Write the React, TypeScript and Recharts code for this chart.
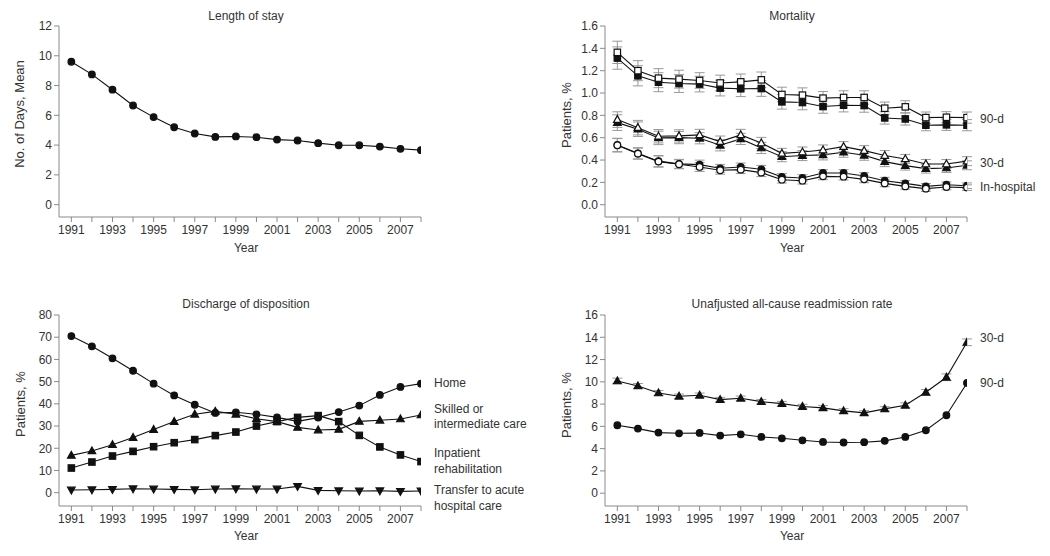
import React from 'react';
import { LineChart, Line, XAxis, YAxis, ErrorBar } from 'recharts';

const years = [1991, 1992, 1993, 1994, 1995, 1996, 1997, 1998, 1999, 2000, 2001, 2002, 2003, 2004, 2005, 2006, 2007, 2008];

// Length of stay
const losMean = [9.6, 8.75, 7.72, 6.66, 5.88, 5.2, 4.78, 4.55, 4.58, 4.53, 4.37, 4.31, 4.13, 3.99, 3.99, 3.9, 3.75, 3.66];

// Mortality
const mort90Open = [1.364, 1.2, 1.133, 1.124, 1.112, 1.09, 1.1, 1.118, 0.987, 0.981, 0.954, 0.96, 0.96, 0.864, 0.876, 0.78, 0.783, 0.78];
const mort90Filled = [1.313, 1.154, 1.097, 1.085, 1.08, 1.044, 1.038, 1.04, 0.921, 0.915, 0.879, 0.891, 0.888, 0.777, 0.768, 0.712, 0.715, 0.712];
const mort30Open = [0.762, 0.69, 0.613, 0.616, 0.625, 0.565, 0.625, 0.553, 0.46, 0.472, 0.49, 0.52, 0.484, 0.44, 0.41, 0.365, 0.365, 0.39];
const mort30Filled = [0.735, 0.676, 0.598, 0.601, 0.595, 0.532, 0.589, 0.508, 0.43, 0.44, 0.446, 0.47, 0.443, 0.386, 0.35, 0.323, 0.329, 0.353];
const mortHospFilled = [0.535, 0.46, 0.39, 0.366, 0.359, 0.326, 0.338, 0.317, 0.248, 0.239, 0.284, 0.284, 0.257, 0.215, 0.191, 0.164, 0.179, 0.17];
const mortHospOpen = [0.532, 0.457, 0.386, 0.362, 0.338, 0.308, 0.314, 0.287, 0.224, 0.215, 0.254, 0.251, 0.227, 0.191, 0.164, 0.144, 0.158, 0.153];
const mort90Err = [0.1, 0.09, 0.085, 0.08, 0.07, 0.07, 0.07, 0.07, 0.065, 0.065, 0.06, 0.06, 0.06, 0.055, 0.055, 0.05, 0.05, 0.05];
const mort30Err = [0.07, 0.065, 0.06, 0.055, 0.05, 0.05, 0.05, 0.05, 0.045, 0.045, 0.045, 0.045, 0.045, 0.045, 0.04, 0.04, 0.04, 0.04];
const mortHospErr = [0.06, 0.05, 0.05, 0.04, 0.04, 0.035, 0.035, 0.035, 0.03, 0.03, 0.03, 0.03, 0.03, 0.03, 0.025, 0.025, 0.025, 0.025];

// Discharge disposition
const dispHome = [70.5, 65.9, 60.5, 54.9, 49.1, 43.8, 39.6, 35.9, 36.2, 35.3, 33.9, 32.1, 33.8, 36.3, 39.2, 44.0, 47.6, 49.1];
const dispSkilled = [16.8, 18.8, 21.6, 24.8, 28.4, 32.0, 35.3, 36.6, 35.3, 33.3, 32.0, 29.4, 28.2, 28.5, 32.1, 32.6, 33.2, 35.0];
const dispRehab = [11.1, 13.8, 16.5, 18.6, 20.7, 22.5, 23.9, 25.7, 27.3, 30.0, 32.0, 33.9, 34.7, 32.0, 25.8, 20.6, 17.0, 14.0];
const dispTransfer = [1.2, 1.35, 1.5, 1.8, 1.65, 1.5, 1.35, 1.65, 1.8, 1.65, 1.65, 2.85, 1.05, 0.9, 0.75, 0.9, 0.6, 0.75];

// Readmission
const readm30 = [10.08, 9.63, 9.0, 8.7, 8.79, 8.4, 8.52, 8.22, 8.04, 7.78, 7.66, 7.39, 7.21, 7.57, 7.89, 9.06, 10.41, 13.55];
const readm90 = [6.1, 5.8, 5.44, 5.38, 5.41, 5.17, 5.29, 5.05, 4.93, 4.75, 4.6, 4.55, 4.58, 4.7, 5.05, 5.65, 7.0, 9.9];
const readm30Err = [0.25, 0.22, 0.22, 0.2, 0.2, 0.2, 0.2, 0.2, 0.2, 0.2, 0.2, 0.2, 0.2, 0.2, 0.22, 0.25, 0.3, 0.3];

const losTicks = [0, 2, 4, 6, 8, 10, 12];
const mortTicks = [0, 0.2, 0.4, 0.6, 0.8, 1.0, 1.2, 1.4, 1.6];
const dispTicks = [0, 10, 20, 30, 40, 50, 60, 70, 80];
const readmTicks = [0, 2, 4, 6, 8, 10, 12, 14, 16];

const losData = years.map((y, i) => ({ year: y, los: losMean[i] }));
const mortData = years.map((y, i) => ({
  year: y,
  m90o: mort90Open[i], m90f: mort90Filled[i],
  m30o: mort30Open[i], m30f: mort30Filled[i],
  mho: mortHospOpen[i], mhf: mortHospFilled[i],
  e90: mort90Err[i], e30: mort30Err[i], eh: mortHospErr[i],
}));
const dispData = years.map((y, i) => ({
  year: y, home: dispHome[i], skilled: dispSkilled[i], rehab: dispRehab[i], transfer: dispTransfer[i],
}));
const readmData = years.map((y, i) => ({ year: y, r30: readm30[i], r90: readm90[i], e30: readm30Err[i] }));

const FONT = '"Liberation Sans", Arial, Helvetica, sans-serif';
const TEXT = '#333';
const AXIS = '#8a8a8a';

type Shape = 'circle' | 'square' | 'up' | 'down';
const makeDot = (shape: Shape, filled: boolean) => (p: any) => {
  const { cx, cy, index } = p;
  const fill = filled ? '#111' : '#fff';
  const common = { fill, stroke: '#111', strokeWidth: 1.2 };
  if (cx == null || cy == null) return <g key={index} />;
  if (shape === 'circle') return <circle key={index} cx={cx} cy={cy} r={3.3} {...common} />;
  if (shape === 'square') return <rect key={index} x={cx - 3.2} y={cy - 3.2} width={6.4} height={6.4} {...common} />;
  if (shape === 'up')
    return <polygon key={index} points={`${cx},${cy - 4} ${cx - 3.8},${cy + 2.8} ${cx + 3.8},${cy + 2.8}`} {...common} />;
  return <polygon key={index} points={`${cx},${cy + 4} ${cx - 3.8},${cy - 2.8} ${cx + 3.8},${cy - 2.8}`} {...common} />;
};

const xAxisProps = {
  dataKey: 'year',
  type: 'number' as const,
  domain: [1990.4, 2008],
  ticks: years,
  interval: 0 as const,
  allowDataOverflow: true,
  tickFormatter: (v: number) => (v % 2 === 1 ? String(v) : ''),
  tick: { fill: TEXT, fontSize: 12, fontFamily: FONT },
  stroke: AXIS,
  tickSize: 5,
  tickMargin: 3,
  height: 30,
};

const yAxisCommon = {
  stroke: AXIS,
  tickSize: 5,
  tickMargin: 2,
  interval: 0 as const,
  allowDataOverflow: true,
  tick: { fill: TEXT, fontSize: 12, fontFamily: FONT },
};

const lineProps = {
  type: 'linear' as const,
  stroke: '#111',
  strokeWidth: 1.1,
  isAnimationActive: false,
  activeDot: false as const,
};

const T = ({ x, y, children, mode = 'center', size = 12 }: any) => {
  let transform = 'translate(-50%,-50%)';
  if (mode === 'left') transform = 'translate(0,-50%)';
  if (mode === 'rot') transform = 'translate(-50%,-50%) rotate(-90deg)';
  return (
    <div
      style={{
        position: 'absolute', left: x, top: y, transform, whiteSpace: 'nowrap',
        fontSize: size, fontFamily: FONT, color: TEXT, lineHeight: '15px',
      }}
    >
      {children}
    </div>
  );
};

const W = 525;
const H = 278;

export default function App() {
  return (
    <div style={{ position: 'absolute', left: 0, top: 0, width: 1050, height: 556, background: '#fff' }}>
      {/* Top-left: Length of stay */}
      <div style={{ position: 'absolute', left: 0, top: 0 }}>
        <LineChart width={W} height={H} data={losData} margin={{ top: 26, right: 104, bottom: 31, left: 0 }}>
          <XAxis {...xAxisProps} />
          <YAxis {...yAxisCommon} width={59} domain={[-0.83, 12]} ticks={losTicks} />
          <Line {...lineProps} dataKey="los" dot={makeDot('circle', true)} />
        </LineChart>
      </div>

      {/* Top-right: Mortality */}
      <div style={{ position: 'absolute', left: 525, top: 0 }}>
        <LineChart width={W} height={H} data={mortData} margin={{ top: 26, right: 83, bottom: 31, left: 0 }}>
          <XAxis {...xAxisProps} />
          <YAxis {...yAxisCommon} width={80} domain={[-0.11, 1.6]} ticks={mortTicks} tickFormatter={(v: number) => v.toFixed(1)} />
          <Line {...lineProps} dataKey="m90f" dot={makeDot('square', true)}>
            <ErrorBar dataKey="e90" width={5} stroke="#999" strokeWidth={1} direction="y" />
          </Line>
          <Line {...lineProps} dataKey="m90o" dot={makeDot('square', false)}>
            <ErrorBar dataKey="e90" width={5} stroke="#999" strokeWidth={1} direction="y" />
          </Line>
          <Line {...lineProps} dataKey="m30f" dot={makeDot('up', true)}>
            <ErrorBar dataKey="e30" width={5} stroke="#999" strokeWidth={1} direction="y" />
          </Line>
          <Line {...lineProps} dataKey="m30o" dot={makeDot('up', false)}>
            <ErrorBar dataKey="e30" width={5} stroke="#999" strokeWidth={1} direction="y" />
          </Line>
          <Line {...lineProps} dataKey="mhf" dot={makeDot('circle', true)}>
            <ErrorBar dataKey="eh" width={5} stroke="#999" strokeWidth={1} direction="y" />
          </Line>
          <Line {...lineProps} dataKey="mho" dot={makeDot('circle', false)}>
            <ErrorBar dataKey="eh" width={5} stroke="#999" strokeWidth={1} direction="y" />
          </Line>
        </LineChart>
      </div>

      {/* Bottom-left: Discharge disposition */}
      <div style={{ position: 'absolute', left: 0, top: 278 }}>
        <LineChart width={W} height={H} data={dispData} margin={{ top: 37, right: 104, bottom: 20, left: 0 }}>
          <XAxis {...xAxisProps} />
          <YAxis {...yAxisCommon} width={59} domain={[-6, 80]} ticks={dispTicks} />
          <Line {...lineProps} dataKey="transfer" dot={makeDot('down', true)} />
          <Line {...lineProps} dataKey="rehab" dot={makeDot('square', true)} />
          <Line {...lineProps} dataKey="skilled" dot={makeDot('up', true)} />
          <Line {...lineProps} dataKey="home" dot={makeDot('circle', true)} />
        </LineChart>
      </div>

      {/* Bottom-right: Readmission */}
      <div style={{ position: 'absolute', left: 525, top: 278 }}>
        <LineChart width={W} height={H} data={readmData} margin={{ top: 37, right: 83, bottom: 20, left: 0 }}>
          <XAxis {...xAxisProps} />
          <YAxis {...yAxisCommon} width={80} domain={[-1.15, 16]} ticks={readmTicks} />
          <Line {...lineProps} dataKey="r30" dot={makeDot('up', true)}>
            <ErrorBar dataKey="e30" width={5} stroke="#999" strokeWidth={1} direction="y" />
          </Line>
          <Line {...lineProps} dataKey="r90" dot={makeDot('circle', true)} />
        </LineChart>
      </div>

      {/* Titles */}
      <T x={246} y={16}>Length of stay</T>
      <T x={792} y={16}>Mortality</T>
      <T x={246} y={304}>Discharge of disposition</T>
      <T x={792} y={304}>Unafjusted all-cause readmission rate</T>

      {/* X axis titles */}
      <T x={246} y={248}>Year</T>
      <T x={792} y={248}>Year</T>
      <T x={246} y={536}>Year</T>
      <T x={792} y={536}>Year</T>

      {/* Y axis titles */}
      <T x={19} y={114} mode="rot" size={13}>No. of Days, Mean</T>
      <T x={566} y={115} mode="rot" size={13}>Patients, %</T>
      <T x={20} y={404} mode="rot" size={13}>Patients, %</T>
      <T x={566} y={405} mode="rot" size={13}>Patients, %</T>

      {/* Series labels: Mortality */}
      <T x={980} y={119} mode="left">90-d</T>
      <T x={980} y={163} mode="left">30-d</T>
      <T x={980} y={187} mode="left">In-hospital</T>

      {/* Series labels: Discharge */}
      <T x={434} y={383} mode="left">Home</T>
      <T x={434} y={409} mode="left">Skilled or</T>
      <T x={434} y={424} mode="left">intermediate care</T>
      <T x={434} y={453} mode="left">Inpatient</T>
      <T x={434} y={469} mode="left">rehabilitation</T>
      <T x={434} y={490} mode="left">Transfer to acute</T>
      <T x={434} y={506} mode="left">hospital care</T>

      {/* Series labels: Readmission */}
      <T x={980} y={338} mode="left">30-d</T>
      <T x={980} y={383} mode="left">90-d</T>
    </div>
  );
}
